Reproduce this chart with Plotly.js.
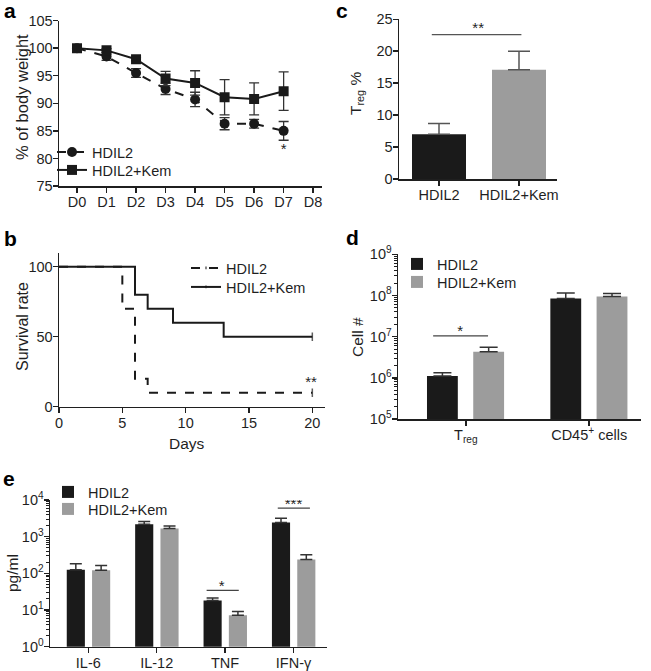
<!DOCTYPE html>
<html>
<head>
<meta charset="utf-8">
<script src="https://cdn.plot.ly/plotly-3.0.1.min.js"></script>
<style>html,body{margin:0;padding:0;background:#fff;}#chart{width:651px;height:671px;}</style>
</head>
<body>
<div id="chart"></div>
<script>
// ---------- Panel a: body weight ----------
var aDays = ["D0","D1","D2","D3","D4","D5","D6","D7","D8"];
var aHDIL2 = [100, 98.5, 95.5, 92.6, 90.7, 86.3, 86.3, 85.0];
var aHDIL2Err = [0, 0.7, 0.8, 1.0, 1.3, 1.1, 0.8, 1.7];
var aKem = [100, 99.6, 98.0, 94.5, 93.7, 91.1, 90.8, 92.2];
var aKemErr = [0, 0.3, 0.3, 1.3, 2.2, 3.2, 2.9, 3.5];
var aStar = {x: 7, y: 81.4, text: "*"};

// ---------- Panel b: survival ----------
var bHDIL2Days = [0, 5, 6, 7, 20];
var bHDIL2Surv = [100, 70, 20, 10, 10];
var bKemDays = [0, 6, 7, 9, 13, 20];
var bKemSurv = [100, 80, 70, 60, 50, 50];
var bStar = {x: 19.9, y: 17, text: "**"};

// ---------- Panel c: Treg % ----------
var cGroups = ["HDIL2", "HDIL2+Kem"];
var cValues = [7.0, 17.1];
var cErr = [1.7, 2.9];
var cSigLine = {x: [-0.09, 1.03], y: [22.6, 22.6]};
var cStar = {x: 0.49, y: 23.4, text: "**"};

// ---------- Panel d: cell numbers ----------
var dCats = ["T<sub>reg</sub>", "CD45<sup>+</sup> cells"];
var dHDIL2 = [1.1e6, 8.5e7];
var dHDIL2Err = [0.23e6, 3.0e7];
var dKem = [4.3e6, 9.5e7];
var dKemErr = [1.2e6, 1.7e7];
var dSigLine = {x: [-0.265, 0.18], y: [1.05e7, 1.05e7]};
var dStar = {x: -0.045, y: 1.3e7, text: "*"};

// ---------- Panel e: cytokines ----------
var eCats = ["IL-6", "IL-12", "TNF", "IFN-γ"];
var eHDIL2 = [126, 2180, 18.3, 2430];
var eHDIL2Err = [56, 400, 3.0, 750];
var eKem = [122, 1660, 7.2, 240];
var eKemErr = [42, 310, 1.9, 80];
var eSigTNF = {x: [1.73, 2.2], y: [34.5, 34.5]};
var eStarTNF = {x: 1.95, y: 42, text: "*"};
var eSigIFN = {x: [2.77, 3.24], y: [6000, 6000]};
var eStarIFN = {x: 3.0, y: 7400, text: "***"};

var dTickExp = [5, 6, 7, 8, 9];
var eTickExp = [0, 1, 2, 3, 4];

var FONT = "Liberation Sans, Arial, Helvetica, sans-serif";
var INK = "#1f1f1f";
var BLACK = "#1a1a1a";
var GREY = "#9c9c9c";
var W = 651, H = 671;
function px(v){return v / W;}
function py(v){return 1 - v / H;}
function idx(arr){return arr.map(function(_, i){return i;});}
function powVals(exps){return exps.map(function(e){return Math.pow(10, e);});}
function powText(exps){return exps.map(function(e){return "10<sup>" + e + "</sup>";});}
function minorVals(exps){
  var out = [];
  for (var i = 0; i < exps.length - 1; i++)
    for (var m = 2; m <= 9; m++) out.push(m * Math.pow(10, exps[i]));
  return out;
}

var traces = [];

// Panel a
traces.push({
  x: idx(aHDIL2), y: aHDIL2, xaxis: "x", yaxis: "y", type: "scatter", mode: "lines+markers",
  name: "HDIL2", legend: "legend",
  line: {color: BLACK, width: 2, dash: "dash"},
  marker: {symbol: "circle", size: 10, color: BLACK},
  error_y: {type: "data", array: aHDIL2Err, visible: true, color: "#333", thickness: 1.3, width: 5}
});
traces.push({
  x: idx(aKem), y: aKem, xaxis: "x", yaxis: "y", type: "scatter", mode: "lines+markers",
  name: "HDIL2+Kem", legend: "legend2",
  line: {color: BLACK, width: 2},
  marker: {symbol: "square", size: 10, color: BLACK},
  error_y: {type: "data", array: aKemErr, visible: true, color: "#333", thickness: 1.3, width: 5}
});
traces.push({
  x: [aStar.x], y: [aStar.y], text: [aStar.text], mode: "text", type: "scatter",
  xaxis: "x", yaxis: "y", showlegend: false, textfont: {size: 15, color: INK, family: FONT}
});

// Panel b
traces.push({
  x: bHDIL2Days, y: bHDIL2Surv, xaxis: "x2", yaxis: "y2", type: "scatter", mode: "lines+markers",
  name: "HDIL2", legend: "legend3",
  line: {color: BLACK, width: 2, dash: "dash", shape: "hv"},
  marker: {symbol: "line-ns-open", size: [0,0,0,0,6], color: BLACK, line: {width: 1.5, color: BLACK}}
});
traces.push({
  x: bKemDays, y: bKemSurv, xaxis: "x2", yaxis: "y2", type: "scatter", mode: "lines+markers",
  name: "HDIL2+Kem", legend: "legend4",
  line: {color: BLACK, width: 2, shape: "hv"},
  marker: {symbol: "line-ns-open", size: [0,0,0,0,0,6], color: BLACK, line: {width: 1.5, color: BLACK}}
});
traces.push({
  x: [bStar.x], y: [bStar.y], text: [bStar.text], mode: "text", type: "scatter",
  xaxis: "x2", yaxis: "y2", showlegend: false, textfont: {size: 15, color: INK, family: FONT}
});

// Panel c
traces.push({
  x: [0], y: [cValues[0]], xaxis: "x3", yaxis: "y3", type: "bar", showlegend: false,
  width: 0.675, marker: {color: BLACK, line: {width: 0}},
  error_y: {type: "data", symmetric: false, array: [cErr[0]], arrayminus: [0], color: "#555", thickness: 1.5, width: 11}
});
traces.push({
  x: [1], y: [cValues[1]], xaxis: "x3", yaxis: "y3", type: "bar", showlegend: false,
  width: 0.675, marker: {color: GREY, line: {width: 0}},
  error_y: {type: "data", symmetric: false, array: [cErr[1]], arrayminus: [0], color: "#555", thickness: 1.5, width: 11}
});
traces.push({
  x: cSigLine.x, y: cSigLine.y, xaxis: "x3", yaxis: "y3", type: "scatter", mode: "lines",
  showlegend: false, line: {color: "#555", width: 1.3}
});
traces.push({
  x: [cStar.x], y: [cStar.y], text: [cStar.text], mode: "text", type: "scatter",
  xaxis: "x3", yaxis: "y3", showlegend: false, textfont: {size: 15, color: INK, family: FONT}
});

// Panel d
traces.push({
  x: idx(dHDIL2), y: dHDIL2, xaxis: "x4", yaxis: "y4", type: "bar", name: "HDIL2", legend: "legend5",
  width: 0.25, offset: -0.315, marker: {color: BLACK, line: {width: 0}},
  error_y: {type: "data", symmetric: false, array: dHDIL2Err, arrayminus: [0,0], color: "#333", thickness: 1.5, width: 9}
});
traces.push({
  x: idx(dKem), y: dKem, xaxis: "x4", yaxis: "y4", type: "bar", name: "HDIL2+Kem", legend: "legend6",
  width: 0.25, offset: 0.06, marker: {color: GREY, line: {width: 0}},
  error_y: {type: "data", symmetric: false, array: dKemErr, arrayminus: [0,0], color: "#333", thickness: 1.5, width: 9}
});
traces.push({
  x: dSigLine.x, y: dSigLine.y, xaxis: "x4", yaxis: "y4", type: "scatter", mode: "lines",
  showlegend: false, line: {color: "#444", width: 1.3}
});
traces.push({
  x: [dStar.x], y: [dStar.y], text: [dStar.text], mode: "text", type: "scatter",
  xaxis: "x4", yaxis: "y4", showlegend: false, textfont: {size: 15, color: INK, family: FONT}
});

// Panel e
traces.push({
  x: idx(eHDIL2), y: eHDIL2, xaxis: "x5", yaxis: "y5", type: "bar", name: "HDIL2", legend: "legend7",
  width: 0.265, offset: -0.315, marker: {color: BLACK, line: {width: 0}},
  error_y: {type: "data", symmetric: false, array: eHDIL2Err, arrayminus: [0,0,0,0], color: "#333", thickness: 1.5, width: 6}
});
traces.push({
  x: idx(eKem), y: eKem, xaxis: "x5", yaxis: "y5", type: "bar", name: "HDIL2+Kem", legend: "legend8",
  width: 0.265, offset: 0.055, marker: {color: GREY, line: {width: 0}},
  error_y: {type: "data", symmetric: false, array: eKemErr, arrayminus: [0,0,0,0], color: "#333", thickness: 1.5, width: 6}
});
[eSigTNF, eSigIFN].forEach(function(s){
  traces.push({
    x: s.x, y: s.y, xaxis: "x5", yaxis: "y5", type: "scatter", mode: "lines",
    showlegend: false, line: {color: "#444", width: 1.3}
  });
});
[eStarTNF, eStarIFN].forEach(function(s){
  traces.push({
    x: [s.x], y: [s.y], text: [s.text], mode: "text", type: "scatter",
    xaxis: "x5", yaxis: "y5", showlegend: false, textfont: {size: 15, color: INK, family: FONT}
  });
});

function ax(extra){
  var base = {
    showline: true, linecolor: INK, linewidth: 1.5, ticks: "outside", ticklen: 5,
    tickwidth: 1.5, tickcolor: INK, showgrid: false, zeroline: false, fixedrange: true,
    ticklabelstandoff: -3,
    tickfont: {size: 14.5, color: INK, family: FONT}
  };
  for (var k in extra) base[k] = extra[k];
  return base;
}

var legendFont = {size: 14.5, color: INK, family: FONT};
// one legend per entry so each row sits where the reference puts it
function lg(textLeft, rowCenter){
  return {x: px(textLeft - 40), y: py(rowCenter), xanchor: "left", yanchor: "middle",
    bgcolor: "rgba(0,0,0,0)", font: legendFont, itemwidth: 30};
}

function ann(text, x, y, opts){
  var a = {text: text, x: px(x), y: py(y), xref: "paper", yref: "paper", showarrow: false,
    xanchor: "center", yanchor: "middle", font: {size: 15.5, color: INK, family: FONT}};
  for (var k in opts) a[k] = opts[k];
  return a;
}
var letterFont = {size: 21, color: "#000", family: FONT, weight: "bold"};
var minorStyle = function(exps){
  return {tickmode: "array", tickvals: minorVals(exps), ticks: "outside", ticklen: 3, tickwidth: 1, tickcolor: INK};
};

var layout = {
  width: W, height: H, margin: {l: 0, r: 0, t: 0, b: 0},
  paper_bgcolor: "#fff", plot_bgcolor: "rgba(0,0,0,0)",
  barmode: "overlay", showlegend: true,
  font: {family: FONT, color: INK},
  xaxis: ax({domain: [px(59), px(322)], anchor: "y", range: [-0.61, 8.3],
    tickvals: idx(aDays), ticktext: aDays}),
  yaxis: ax({domain: [py(186), py(20.6)], anchor: "x", range: [75, 105], dtick: 5, tick0: 75}),
  xaxis2: ax({domain: [px(59), px(325)], anchor: "y2", range: [0, 21], tickvals: [0,5,10,15,20]}),
  yaxis2: ax({domain: [py(406.7), py(253)], anchor: "x2", range: [0, 109.8], tickvals: [0,50,100]}),
  xaxis3: ax({domain: [px(399), px(557)], anchor: "y3", range: [-0.5, 1.475],
    tickvals: idx(cGroups), ticktext: cGroups}),
  yaxis3: ax({domain: [py(179), py(19.3)], anchor: "x3", range: [0, 25], dtick: 5}),
  xaxis4: ax({domain: [px(398), px(641)], anchor: "y4", range: [-0.55, 1.42],
    tickvals: idx(dCats), ticktext: dCats}),
  yaxis4: ax({domain: [py(419), py(254.3)], anchor: "x4", type: "log", range: [5, 9],
    tickmode: "array", tickvals: powVals(dTickExp), ticktext: powText(dTickExp),
    minor: minorStyle(dTickExp)}),
  xaxis5: ax({domain: [px(50), px(327)], anchor: "y5", range: [-0.56, 3.49],
    tickvals: idx(eCats), ticktext: eCats}),
  yaxis5: ax({domain: [py(646.7), py(500)], anchor: "x5", type: "log", range: [0, 4],
    tickmode: "array", tickvals: powVals(eTickExp), ticktext: powText(eTickExp),
    minor: minorStyle(eTickExp)}),
  legend: lg(92, 152),
  legend2: lg(92, 170),
  legend3: lg(226, 268),
  legend4: lg(226, 287),
  legend5: lg(437, 264),
  legend6: lg(437, 282),
  legend7: lg(88, 492),
  legend8: lg(88, 509),
  annotations: [
    ann("<b>a</b>", 10, 10, {font: letterFont}),
    ann("<b>b</b>", 10, 238, {font: letterFont}),
    ann("<b>c</b>", 342, 10, {font: letterFont}),
    ann("<b>d</b>", 352, 237, {font: letterFont}),
    ann("<b>e</b>", 9, 478, {font: letterFont}),
    ann("% of body weight", 22, 97, {textangle: -90, font: {size: 16.5, color: INK, family: FONT}}),
    ann("Survival rate", 22, 327, {textangle: -90, font: {size: 16, color: INK, family: FONT}}),
    ann("Days", 187, 443),
    ann("T<sub>reg</sub> %", 357, 94, {textangle: -90}),
    ann("Cell #", 357, 337, {textangle: -90}),
    ann("pg/ml", 12, 573, {textangle: -90})
  ]
};

Plotly.newPlot("chart", traces, layout, {staticPlot: true, displayModeBar: false});
</script>
</body>
</html>
